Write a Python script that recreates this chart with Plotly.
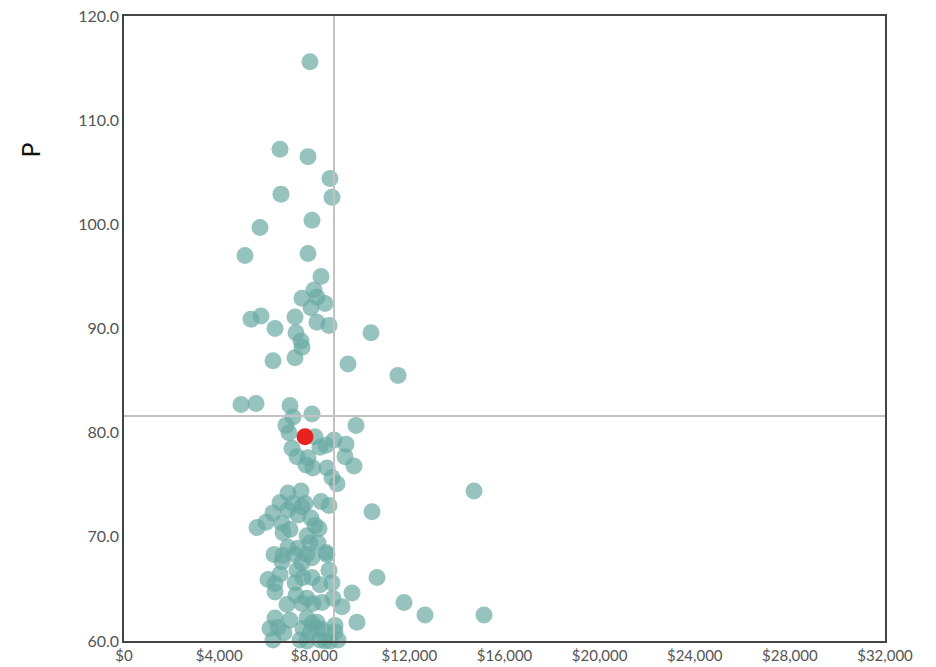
import plotly.graph_objects as go

# GDP per capita (US$) and P value for each country
gdp = [
    7820, 6560, 7737, 8662, 6602, 8746, 7905, 5719, 7737, 5088,
    8284, 7990, 7485, 8116, 8452, 7863, 5340, 5761, 7191, 8116,
    8620, 6350, 10386, 7233, 7443, 7485, 6265, 7191, 9419, 11522,
    4920, 5551, 6980, 7106, 7905, 9756, 6812, 6938, 8032, 8831,
    9335, 7064, 8242, 8494, 7275, 7737, 9293, 9672, 7653, 7947,
    8536, 8746, 8957, 14718,
    6896, 7443, 6560, 7106, 7611, 8284, 8620, 10428, 6265, 6896,
    7485, 7863, 5593, 5971, 6644, 7317, 8032, 8200, 6686, 6980,
    7695, 7821, 6896, 7317, 8158, 8494, 6308, 6686, 7191, 7695,
    7905, 6644, 7485, 8536, 8620, 7275, 6055, 6350, 6560, 7191,
    7527, 7905, 8242, 8746, 10639, 9587, 6350, 7233, 7695, 8326,
    8789, 9167, 6854, 7485, 7947, 11774, 12657, 15138, 9798, 6350,
    6980, 7695, 7905, 8116, 8873, 6139, 6476, 6728, 7527, 7821,
    8326, 8873, 6265, 7401, 7695, 8452, 8999, 8662, 8242, 8158,
]
p_value = [
    115.6, 107.2, 106.5, 104.4, 102.9, 102.6, 100.4, 99.7, 97.2, 97.0,
    95.0, 93.7, 92.9, 93.0, 92.4, 92.0, 90.9, 91.2, 91.1, 90.6,
    90.3, 90.0, 89.6, 89.6, 88.8, 88.2, 86.9, 87.2, 86.6, 85.5,
    82.7, 82.8, 82.6, 81.5, 81.8, 80.7, 80.7, 80.0, 79.6, 79.3,
    78.9, 78.5, 78.6, 78.8, 77.7, 77.6, 77.7, 76.8, 76.9, 76.6,
    76.6, 75.7, 75.1, 74.4,
    74.2, 74.4, 73.3, 73.2, 73.2, 73.4, 73.0, 72.4, 72.3, 72.6,
    72.9, 71.8, 70.9, 71.4, 71.3, 72.1, 71.1, 70.8, 70.4, 70.7,
    70.1, 69.4, 69.0, 68.9, 69.4, 68.5, 68.3, 68.2, 68.3, 68.3,
    68.0, 67.6, 67.5, 68.3, 66.8, 66.8, 65.9, 65.5, 66.4, 65.6,
    66.1, 66.1, 65.4, 65.6, 66.1, 64.6, 64.7, 64.4, 64.1, 63.7,
    64.1, 63.3, 63.5, 63.6, 63.6, 63.7, 62.5, 62.5, 61.8, 62.2,
    62.0, 62.2, 61.7, 61.8, 61.5, 61.2, 61.3, 60.8, 61.2, 60.8,
    61.1, 60.9, 60.1, 60.1, 60.0, 60.0, 60.1, 60.0, 60.1, 61.2,
]

# highlighted country
highlight_gdp = [7611]
highlight_p = [79.6]

# reference (average) lines
avg_gdp = 8830
avg_p = 81.6

x_ticks = [0, 4000, 8000, 12000, 16000, 20000, 24000, 28000, 32000]
x_tick_text = ["$" + format(v, ",d") for v in x_ticks]
y_ticks = [60, 70, 80, 90, 100, 110, 120]
y_tick_text = [f"{v:.1f}" for v in y_ticks]

fig = go.Figure()
fig.add_trace(go.Scatter(
    x=gdp, y=p_value, mode="markers",
    marker=dict(size=17, color="rgba(105,170,162,0.7)", line=dict(width=0)),
    cliponaxis=False, showlegend=False, hoverinfo="x+y",
))
fig.add_trace(go.Scatter(
    x=highlight_gdp, y=highlight_p, mode="markers",
    marker=dict(size=17, color="#e8221f", line=dict(width=0)),
    cliponaxis=False, showlegend=False, hoverinfo="x+y",
))

line_style = dict(color="#c2c2c2", width=2)
fig.add_shape(type="line", xref="x", yref="paper", x0=avg_gdp, x1=avg_gdp,
              y0=0, y1=1, line=line_style, layer="above")
fig.add_shape(type="line", xref="paper", yref="y", x0=0, x1=1,
              y0=avg_p, y1=avg_p, line=line_style, layer="above")

fig.add_annotation(text="P", xref="paper", yref="paper", x=-0.124, y=0.786,
                   textangle=-90, showarrow=False, xanchor="center", yanchor="middle",
                   font=dict(size=25, color="#111", family="Lato"))

axis_common = dict(showgrid=False, zeroline=False, showline=True, mirror=True,
                   linecolor="#444", linewidth=1.5, ticks="", automargin=False)

fig.update_xaxes(range=[0, 32000], tickvals=x_ticks, ticktext=x_tick_text,
                 tickfont=dict(size=15, color="#555", family="Lato"), **axis_common)
fig.update_yaxes(range=[60, 120], tickvals=y_ticks, ticktext=y_tick_text,
                 tickfont=dict(size=16, color="#555", family="Lato"), **axis_common)

fig.update_layout(
    width=936, height=667,
    margin=dict(l=124, r=51, t=16, b=26),
    plot_bgcolor="white", paper_bgcolor="white",
    font=dict(family="Lato"),
)

fig.write_html("out.html")
